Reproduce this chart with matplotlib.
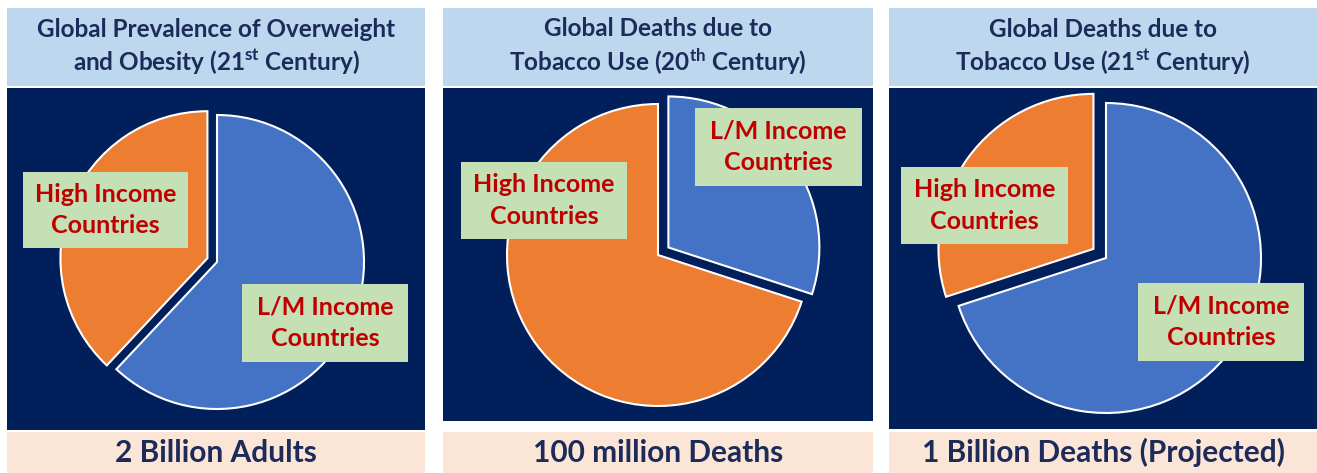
import matplotlib
matplotlib.use('Agg')
import matplotlib.pyplot as plt
from matplotlib.patches import Rectangle

plt.rcParams['font.family'] = 'Lato'
plt.rcParams['mathtext.fontset'] = 'custom'
plt.rcParams['mathtext.rm'] = 'Lato:bold'
plt.rcParams['mathtext.bf'] = 'Lato:bold'
plt.rcParams['mathtext.it'] = 'Lato:bold:italic'

# data
titles = ['Global Prevalence of Overweight\nand Obesity (21$^{\\mathrm{st}}$ Century)',
          'Global Deaths due to\nTobacco Use (20$^{\\mathrm{th}}$ Century)',
          'Global Deaths due to\nTobacco Use (21$^{\\mathrm{st}}$ Century)']
footers = ['2 Billion Adults', '100 million Deaths', '1 Billion Deaths (Projected)']
high_income = [38, 70, 30]
lm_income = [62, 30, 70]
label_high = 'High Income\nCountries'
label_lm = 'L/M Income\nCountries'
explode_high = [0.07, 0.0, 0.1]
explode_lm = [0.0, 0.085, 0.0]

# layout in pixels (x0, y0, x1, y1), y measured from top
headers = [(7, 8, 425, 86), (443, 8, 873, 86), (889, 8, 1317, 86)]
navies = [(7, 88, 425, 430), (443, 88, 873, 421), (889, 88, 1317, 429)]
foots = [(7, 432, 425, 473), (443, 432, 873, 473), (889, 432, 1317, 473)]
centers = [(217, 262, 147), (658, 255, 151), (1106, 258, 155)]
high_boxes = [(23, 172, 188, 248), (461, 162, 627, 239), (901, 167, 1068, 244)]
lm_boxes = [(242, 284, 408, 362), (695, 108, 862, 186), (1138, 283, 1304, 361)]

c_orange = '#ED7D31'
c_blue = '#4472C4'
c_navy = '#001F5B'
c_head = '#BDD7EE'
c_foot = '#FBE5D6'
c_green = '#C5E0B4'
c_red = '#C00000'
c_text = '#1C2B5A'

W, H = 1317, 473
fig = plt.figure(figsize=(W / 100, H / 100), dpi=100)


def box(b, color, z):
    x0, y0, x1, y1 = b
    fig.add_artist(Rectangle((x0 / W, 1 - y1 / H), (x1 - x0) / W, (y1 - y0) / H,
                             transform=fig.transFigure, facecolor=color,
                             edgecolor='none', zorder=z))


def label(b, s, color, size, sp=1.3, z=3):
    x0, y0, x1, y1 = b
    fig.text((x0 + x1) / 2 / W, 1 - (y0 + y1) / 2 / H, s, ha='center', va='center',
             color=color, fontsize=size, fontweight='bold', linespacing=sp, zorder=z)


for i in range(3):
    box(headers[i], c_head, -2)
    box(navies[i], c_navy, -2)
    box(foots[i], c_foot, -2)

    cx, cy, r = centers[i]
    k = 1.3
    ax = fig.add_axes([(cx - k * r) / W, 1 - (cy + k * r) / H, 2 * k * r / W, 2 * k * r / H])
    ax.pie([high_income[i], lm_income[i]], startangle=90, counterclock=True,
           explode=[explode_high[i], explode_lm[i]], colors=[c_orange, c_blue],
           wedgeprops=dict(edgecolor='white', linewidth=1.5))
    ax.set_xlim(-k, k)
    ax.set_ylim(-k, k)
    ax.axis('off')

    box(high_boxes[i], c_green, 2)
    box(lm_boxes[i], c_green, 2)
    label(high_boxes[i], label_high, c_red, 18, 1.45)
    label(lm_boxes[i], label_lm, c_red, 18, 1.45)
    label(headers[i], titles[i], c_text, 17.5, 1.3)
    label(foots[i], footers[i], c_text, 21.5)

fig.savefig('out.png', dpi=100)
